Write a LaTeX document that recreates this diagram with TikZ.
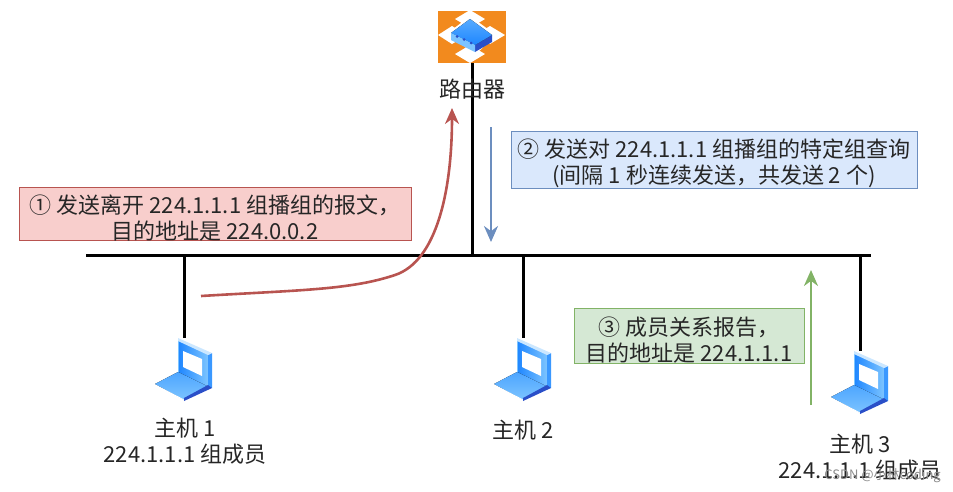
\documentclass[tikz,border=0pt]{standalone}
\usepackage{fontspec}
\setmainfont{Noto Sans CJK SC}
\usetikzlibrary{positioning,arrows.meta}

\definecolor{lapa}{HTML}{1E86FF}
\definecolor{lapb}{HTML}{7CC4FF}
\definecolor{lapc}{HTML}{2A4FC8}
\definecolor{rtro}{HTML}{F28A1E}

\tikzset{
    pics/laptop/.style={code={
        %% lid
        \fill[left color=lapa, right color=lapb] (-6,-30) -- (24,-16) -- (24,19) -- (-6,4) -- cycle;
        \draw[lapb, line width=1.2pt] (-5.5,-30) -- (-5.5,3);
        \fill[white] (-1,-18) -- (18,-10) -- (18,7) -- (-1,-2) -- cycle;
        \fill[lapa!70!lapb] (24,-14) -- (28,-16) -- (28,19) -- (24,19) -- cycle;
        \fill[lapb!40!white] (-6,-31) -- (28,-16) -- (24,-14) -- (-6,-28) -- cycle;
        %% keyboard
        \fill[top color=lapa!50!lapb, bottom color=lapb] (-29,15) -- (-6,3) -- (23,17) -- (0,31) -- cycle;
        \draw[white, line width=1pt] (-29,16) -- (0,31);
        \fill[lapc] (0,32) -- (28,19) -- (24,16) -- (0,29) -- cycle;
    }},
    pics/routericon/.style={code={
        \fill[rtro] (-34,-26) rectangle (34,26);
        %% white diamonds
        \fill[white] (-2,-27) -- (13,-18) -- (-2,-9) -- (-17,-18) -- cycle;
        \fill[white] (-2,26) -- (13,17) -- (-2,8) -- (-17,17) -- cycle;
        \fill[white] (-34,-2) -- (-20,-11) -- (-5,-2) -- (-20,7) -- cycle;
        \fill[white] (33,-2) -- (18,-11) -- (3,-2) -- (18,7) -- cycle;
        \fill[white] (-24,-4) -- (-2,-21) -- (24,-2) -- (3,18) -- cycle;
        %% box
        \fill[lapc] (3,8) -- (20,-2) -- (20,5) -- (3,15) -- cycle;
        \fill[top color=lapa!40!lapb, bottom color=lapa] (-21,-4) -- (-2,-18) -- (20,-2) -- (3,8) -- cycle;
        \fill[lapb] (-21,-4) -- (3,8) -- (3,15) -- (-21,3) -- cycle;
        \fill[lapc] (-15,-0.5) circle (1.5) (-8,2.5) circle (1.5) (-1,6) circle (1.5);
    }},
}

\begin{document}
\begin{tikzpicture}[
    x=1pt, y=-1pt,
    every node/.style={font=\fontsize{22}{26}\selectfont, text=black!85, align=center, inner sep=0pt},
    msgbox/.style={rectangle, draw, line width=.8pt, inner sep=0pt},
    hostbox/.style={rectangle, minimum width=56pt, minimum height=62pt},
    wire/.style={line width=3pt, black},
    sendred/.style={-{Stealth[length=16pt,width=14pt]}, line width=2.6pt, color={rgb,255:red,184;green,84;blue,80}},
    sendblue/.style={-{Stealth[length=16pt,width=14pt]}, line width=2.6pt, color={rgb,255:red,108;green,142;blue,191}},
    sendgreen/.style={-{Stealth[length=16pt,width=14pt]}, line width=2.6pt, color={rgb,255:red,130;green,179;blue,102}},
]
    \useasboundingbox (0,0) rectangle (953,491);
    %% bus
    \coordinate (busl) at (86,255);
    \coordinate (busr) at (871,255);
    \coordinate (tapa) at (184,255);
    \coordinate (tapb) at (472,255);
    \coordinate (tapc) at (523,255);
    \coordinate (tapd) at (860,255);

    %% router and hosts
    \node[minimum width=68pt, minimum height=52pt] (rtr) at (472,37) {};
    \node[hostbox] (hosta) at (184,369) {};
    \node[hostbox] (hostb) at (523,369) {};
    \node[hostbox] (hostc) at (860,382) {};

    \draw[wire] (busl) -- (busr);
    \draw[wire] (tapa) -- (hosta.north);
    \draw[wire] (tapb) -- (rtr.south);
    \draw[wire] (tapc) -- (hostb.north);
    \draw[wire] (tapd) -- (hostc.north);

    \pic at (rtr) {routericon};
    \pic at (hosta) {laptop};
    \pic at (hostb) {laptop};
    \pic at (hostc) {laptop};

    %% labels
    \node[below=16pt of rtr] (rtrlab) {路由器};
    \node (labela) at (185,441) {主机 1\\224.1.1.1 组成员};
    \node (labelb) at (523,430) {主机 2};
    \node (labelc) at (860,457) {主机 3\\224.1.1.1 组成员};

    %% messages
    \node[msgbox, fill={rgb,255:red,248;green,206;blue,204},
          draw={rgb,255:red,184;green,84;blue,80},
          minimum width=392pt, minimum height=53pt] (msga) at (215,214)
        {\rule{0pt}{26pt}① 发送离开 224.1.1.1 组播组的报文，\\目的地址是 224.0.0.2};
    \node[msgbox, fill={rgb,255:red,218;green,232;blue,252},
          draw={rgb,255:red,108;green,142;blue,191},
          minimum width=406pt, minimum height=55pt] (msgb) at (714,160)
        {\rule{0pt}{26pt}② 发送对 224.1.1.1 组播组的特定组查询\\(间隔 1 秒连续发送，共发送 2 个)};
    \node[msgbox, fill={rgb,255:red,213;green,232;blue,212},
          draw={rgb,255:red,130;green,179;blue,102},
          minimum width=230pt, minimum height=55pt] (msgc) at (689,336)
        {\rule{0pt}{26pt}③ 成员关系报告，\\目的地址是 224.1.1.1};

    %% arrows
    \coordinate (reda) at (201,296);
    \coordinate (redb) at (452,108);
    \coordinate (bluea) at (491,127);
    \coordinate (blueb) at (491,242);
    \coordinate (greena) at (811,405);
    \coordinate (greenb) at (811,270);
    \draw[sendred] (reda) .. controls (300,290) and (350,290) .. (395,275)
        .. controls (437,261) and (452,190) .. (redb);
    \draw[sendblue] (bluea) -- (blueb);
    \draw[sendgreen] (greena) -- (greenb);

    %% watermark
    \node[font=\fontsize{13}{15}\selectfont, text=black!45, anchor=east] (mark) at (941,476) {CSDN @小林coding};
\end{tikzpicture}
\end{document}
